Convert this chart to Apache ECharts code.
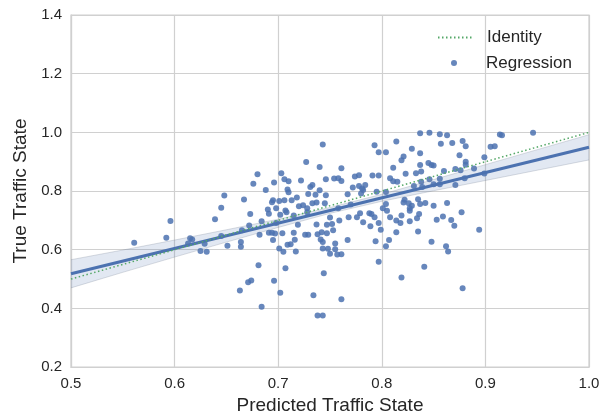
<!DOCTYPE html>
<html>
<head>
<meta charset="utf-8">
<script src="https://cdn.jsdelivr.net/npm/echarts@6/dist/echarts.min.js"></script>
<style>
  html, body { margin: 0; padding: 0; background: #fff; }
  #chart { width: 616px; height: 420px; }
</style>
</head>
<body>
<div id="chart"></div>
<script>
// scatter points: predicted (x) vs true (y)
const predicted = [
  0.561, 0.596, 0.592, 0.615, 0.617, 0.613, 0.625, 0.631, 0.629, 0.639, 0.645, 0.648, 0.645, 0.651, 0.664, 0.664, 0.665, 0.667, 0.672, 0.671, 0.663, 0.673,
  0.727, 0.680, 0.676, 0.703, 0.706, 0.710, 0.696, 0.722, 0.688, 0.709, 0.710, 0.731, 0.733, 0.729, 0.718, 0.713, 0.706, 0.701, 0.695, 0.694, 0.690, 0.691, 0.698, 0.707, 0.702, 0.708, 0.720, 0.724, 0.728, 0.733, 0.715, 0.728,
  0.743, 0.793, 0.797, 0.740, 0.761, 0.754, 0.758, 0.761, 0.746, 0.774, 0.778, 0.791, 0.797, 0.772, 0.778, 0.781, 0.784, 0.782, 0.780, 0.740, 0.746, 0.736, 0.767, 0.795, 0.745, 0.737, 0.758, 0.770, 0.779, 0.788, 0.793, 0.768, 0.750,
  0.814, 0.837, 0.846, 0.829, 0.804, 0.821, 0.819, 0.837, 0.811, 0.823, 0.833, 0.837, 0.845, 0.848, 0.850, 0.838, 0.808, 0.811, 0.815, 0.838, 0.846, 0.831, 0.839, 0.850, 0.856, 0.804, 0.822, 0.821, 0.826, 0.835, 0.837, 0.829, 0.842, 0.850, 0.827, 0.827, 0.804, 0.805, 0.801, 0.819, 0.836, 0.808,
  0.856, 0.863, 0.857, 0.868, 0.878, 0.881, 0.875, 0.881, 0.881, 0.889, 0.899, 0.905, 0.909, 0.914, 0.916, 0.946, 0.860, 0.871, 0.876, 0.880, 0.871, 0.899, 0.856, 0.863, 0.859, 0.867, 0.870, 0.877, 0.894, 0.862, 0.864, 0.878,
  0.682, 0.691, 0.694, 0.697, 0.695, 0.704, 0.698, 0.684, 0.701, 0.705, 0.715, 0.709, 0.712, 0.716, 0.717, 0.719, 0.726, 0.729, 0.737, 0.738, 0.742, 0.741, 0.743, 0.743, 0.747, 0.747, 0.752, 0.753, 0.748, 0.755, 0.755, 0.750, 0.757, 0.759, 0.767, 0.681, 0.674, 0.696, 0.707, 0.702, 0.684, 0.734, 0.744, 0.738, 0.743, 0.761,
  0.776, 0.782, 0.789, 0.797, 0.799, 0.814, 0.818, 0.827, 0.834, 0.835, 0.814, 0.807, 0.804, 0.794, 0.761, 0.797, 0.819, 0.841, 0.848, 0.853, 0.790
];
const actual = [
  0.624, 0.698, 0.641, 0.639, 0.635, 0.621, 0.596, 0.593, 0.620, 0.704, 0.743, 0.785, 0.647, 0.614, 0.626, 0.610, 0.666, 0.771, 0.683, 0.489, 0.461, 0.722,
  0.899, 0.857, 0.825, 0.861, 0.840, 0.833, 0.829, 0.836, 0.804, 0.805, 0.796, 0.814, 0.821, 0.790, 0.778, 0.769, 0.769, 0.766, 0.769, 0.762, 0.737, 0.723, 0.741, 0.734, 0.719, 0.728, 0.748, 0.752, 0.741, 0.758, 0.717, 0.728,
  0.959, 0.956, 0.932, 0.882, 0.878, 0.843, 0.844, 0.834, 0.840, 0.850, 0.854, 0.853, 0.853, 0.812, 0.817, 0.809, 0.821, 0.804, 0.792, 0.803, 0.786, 0.787, 0.789, 0.798, 0.758, 0.761, 0.741, 0.754, 0.724, 0.724, 0.711, 0.711, 0.710,
  0.969, 0.997, 0.999, 0.944, 0.932, 0.918, 0.905, 0.929, 0.879, 0.859, 0.861, 0.889, 0.896, 0.889, 0.887, 0.867, 0.844, 0.833, 0.832, 0.832, 0.840, 0.817, 0.814, 0.823, 0.823, 0.797, 0.770, 0.761, 0.758, 0.772, 0.756, 0.750, 0.759, 0.750, 0.741, 0.733, 0.756, 0.733, 0.741, 0.717, 0.722, 0.711,
  0.994, 0.990, 0.961, 0.964, 0.971, 0.953, 0.922, 0.900, 0.890, 0.877, 0.915, 0.951, 0.953, 0.993, 0.990, 0.999, 0.868, 0.875, 0.871, 0.844, 0.821, 0.860, 0.842, 0.759, 0.713, 0.701, 0.682, 0.728, 0.668, 0.612, 0.594, 0.469,
  0.651, 0.658, 0.658, 0.655, 0.633, 0.656, 0.691, 0.697, 0.604, 0.593, 0.658, 0.617, 0.619, 0.634, 0.594, 0.685, 0.651, 0.651, 0.686, 0.653, 0.660, 0.635, 0.626, 0.604, 0.656, 0.685, 0.688, 0.666, 0.603, 0.621, 0.602, 0.586, 0.584, 0.700, 0.633, 0.547, 0.495, 0.494, 0.537, 0.453, 0.406, 0.445, 0.520, 0.376, 0.376, 0.431,
  0.711, 0.694, 0.680, 0.691, 0.668, 0.700, 0.691, 0.697, 0.707, 0.662, 0.660, 0.633, 0.612, 0.629, 0.585, 0.559, 0.505, 0.542, 0.627, 0.702, 0.722
];

// identity line and fitted regression line end points
const identityX = [0.5, 1.0];
const identityY = [0.5, 1.0];
const regX = [0.5, 1.0];
const regY = [0.518, 0.949];

// confidence band
const bandX    = [0.5,   0.55,  0.6,   0.65,  0.7,   0.75,  0.8,   0.85,  0.9,   0.95,  1.0];
const bandLow  = [0.470, 0.523, 0.575, 0.626, 0.676, 0.724, 0.765, 0.801, 0.836, 0.871, 0.906];
const bandHigh = [0.566, 0.599, 0.633, 0.668, 0.704, 0.744, 0.789, 0.839, 0.890, 0.941, 0.992];

const xTicks = { min: 0.5, max: 1.0, interval: 0.1 };
const yTicks = { min: 0.2, max: 1.4, interval: 0.2 };

const font = "Liberation Sans";
const textColor = "#262626";
const gridColor = "#d0d0d0";

const chart = echarts.init(document.getElementById("chart"), null, { renderer: "canvas" });

const axisCommon = {
  type: "value",
  nameLocation: "middle",
  nameTextStyle: { fontFamily: font, fontSize: 19, color: textColor },
  axisLine: { show: true, lineStyle: { color: gridColor, width: 1.2 } },
  axisTick: { show: false },
  axisLabel: {
    fontFamily: font, fontSize: 15, color: textColor,
    formatter: (v) => v.toFixed(1),
  },
  splitLine: { show: true, lineStyle: { color: gridColor, width: 1.2 } },
};

chart.setOption({
  animation: false,
  backgroundColor: "#fff",
  grid: { left: 71, right: 27, top: 15, bottom: 49, show: true, borderColor: gridColor, borderWidth: 1.2 },
  xAxis: {
    ...axisCommon,
    ...xTicks,
    name: "Predicted Traffic State",
    nameGap: 27,
    axisLabel: { ...axisCommon.axisLabel, margin: 9 },
  },
  yAxis: {
    ...axisCommon,
    ...yTicks,
    name: "True Traffic State",
    nameGap: 38,
    axisLabel: { ...axisCommon.axisLabel, margin: 9 },
  },
  legend: [
    {
      data: ["Identity"], left: 437, top: 29, padding: 0,
      itemWidth: 34, itemHeight: 6,
      itemStyle: { opacity: 0 },
      textStyle: { fontFamily: font, fontSize: 17, color: textColor, padding: [0, 0, 0, 10] },
    },
    {
      data: ["Regression"], left: 451, top: 54.5, padding: 0,
      itemWidth: 34, itemHeight: 6,
      textStyle: { fontFamily: font, fontSize: 17, color: textColor, padding: [0, 0, 0, 10] },
    },
  ],
  series: [
    {
      name: "Regression",
      type: "scatter",
      symbol: "circle",
      symbolSize: 6,
      itemStyle: { color: "#4c72b0", opacity: 0.85 },
      data: predicted.map((x, i) => [x, actual[i]]),
      z: 2,
    },
    {
      name: "band",
      type: "custom",
      silent: true,
      clip: true,
      data: [[0.75, 0.75]],
      renderItem: (params, api) => {
        const top = bandX.map((x, i) => api.coord([x, bandHigh[i]]));
        const bottom = bandX.map((x, i) => api.coord([x, bandLow[i]]));
        const poly = top.concat(bottom.slice().reverse());
        return {
          type: "group",
          children: [
            { type: "polygon", shape: { points: poly }, style: { fill: "rgba(76,114,176,0.16)" } },
            { type: "polyline", shape: { points: top }, style: { fill: null, stroke: "rgba(120,130,150,0.35)", lineWidth: 0.8 } },
            { type: "polyline", shape: { points: bottom }, style: { fill: null, stroke: "rgba(120,130,150,0.35)", lineWidth: 0.8 } },
          ],
        };
      },
      z: 3,
    },
    {
      name: "fit",
      type: "line",
      symbol: "none",
      data: regX.map((x, i) => [x, regY[i]]),
      lineStyle: { color: "#4c72b0", width: 3 },
      z: 4,
    },
    {
      name: "Identity",
      type: "line",
      symbol: "none",
      data: identityX.map((x, i) => [x, identityY[i]]),
      itemStyle: { color: "#55a868" },
      lineStyle: { color: "#55a868", width: 1.5, type: [1.5, 2.5] },
      z: 5,
    },
  ],
});
</script>
</body>
</html>
